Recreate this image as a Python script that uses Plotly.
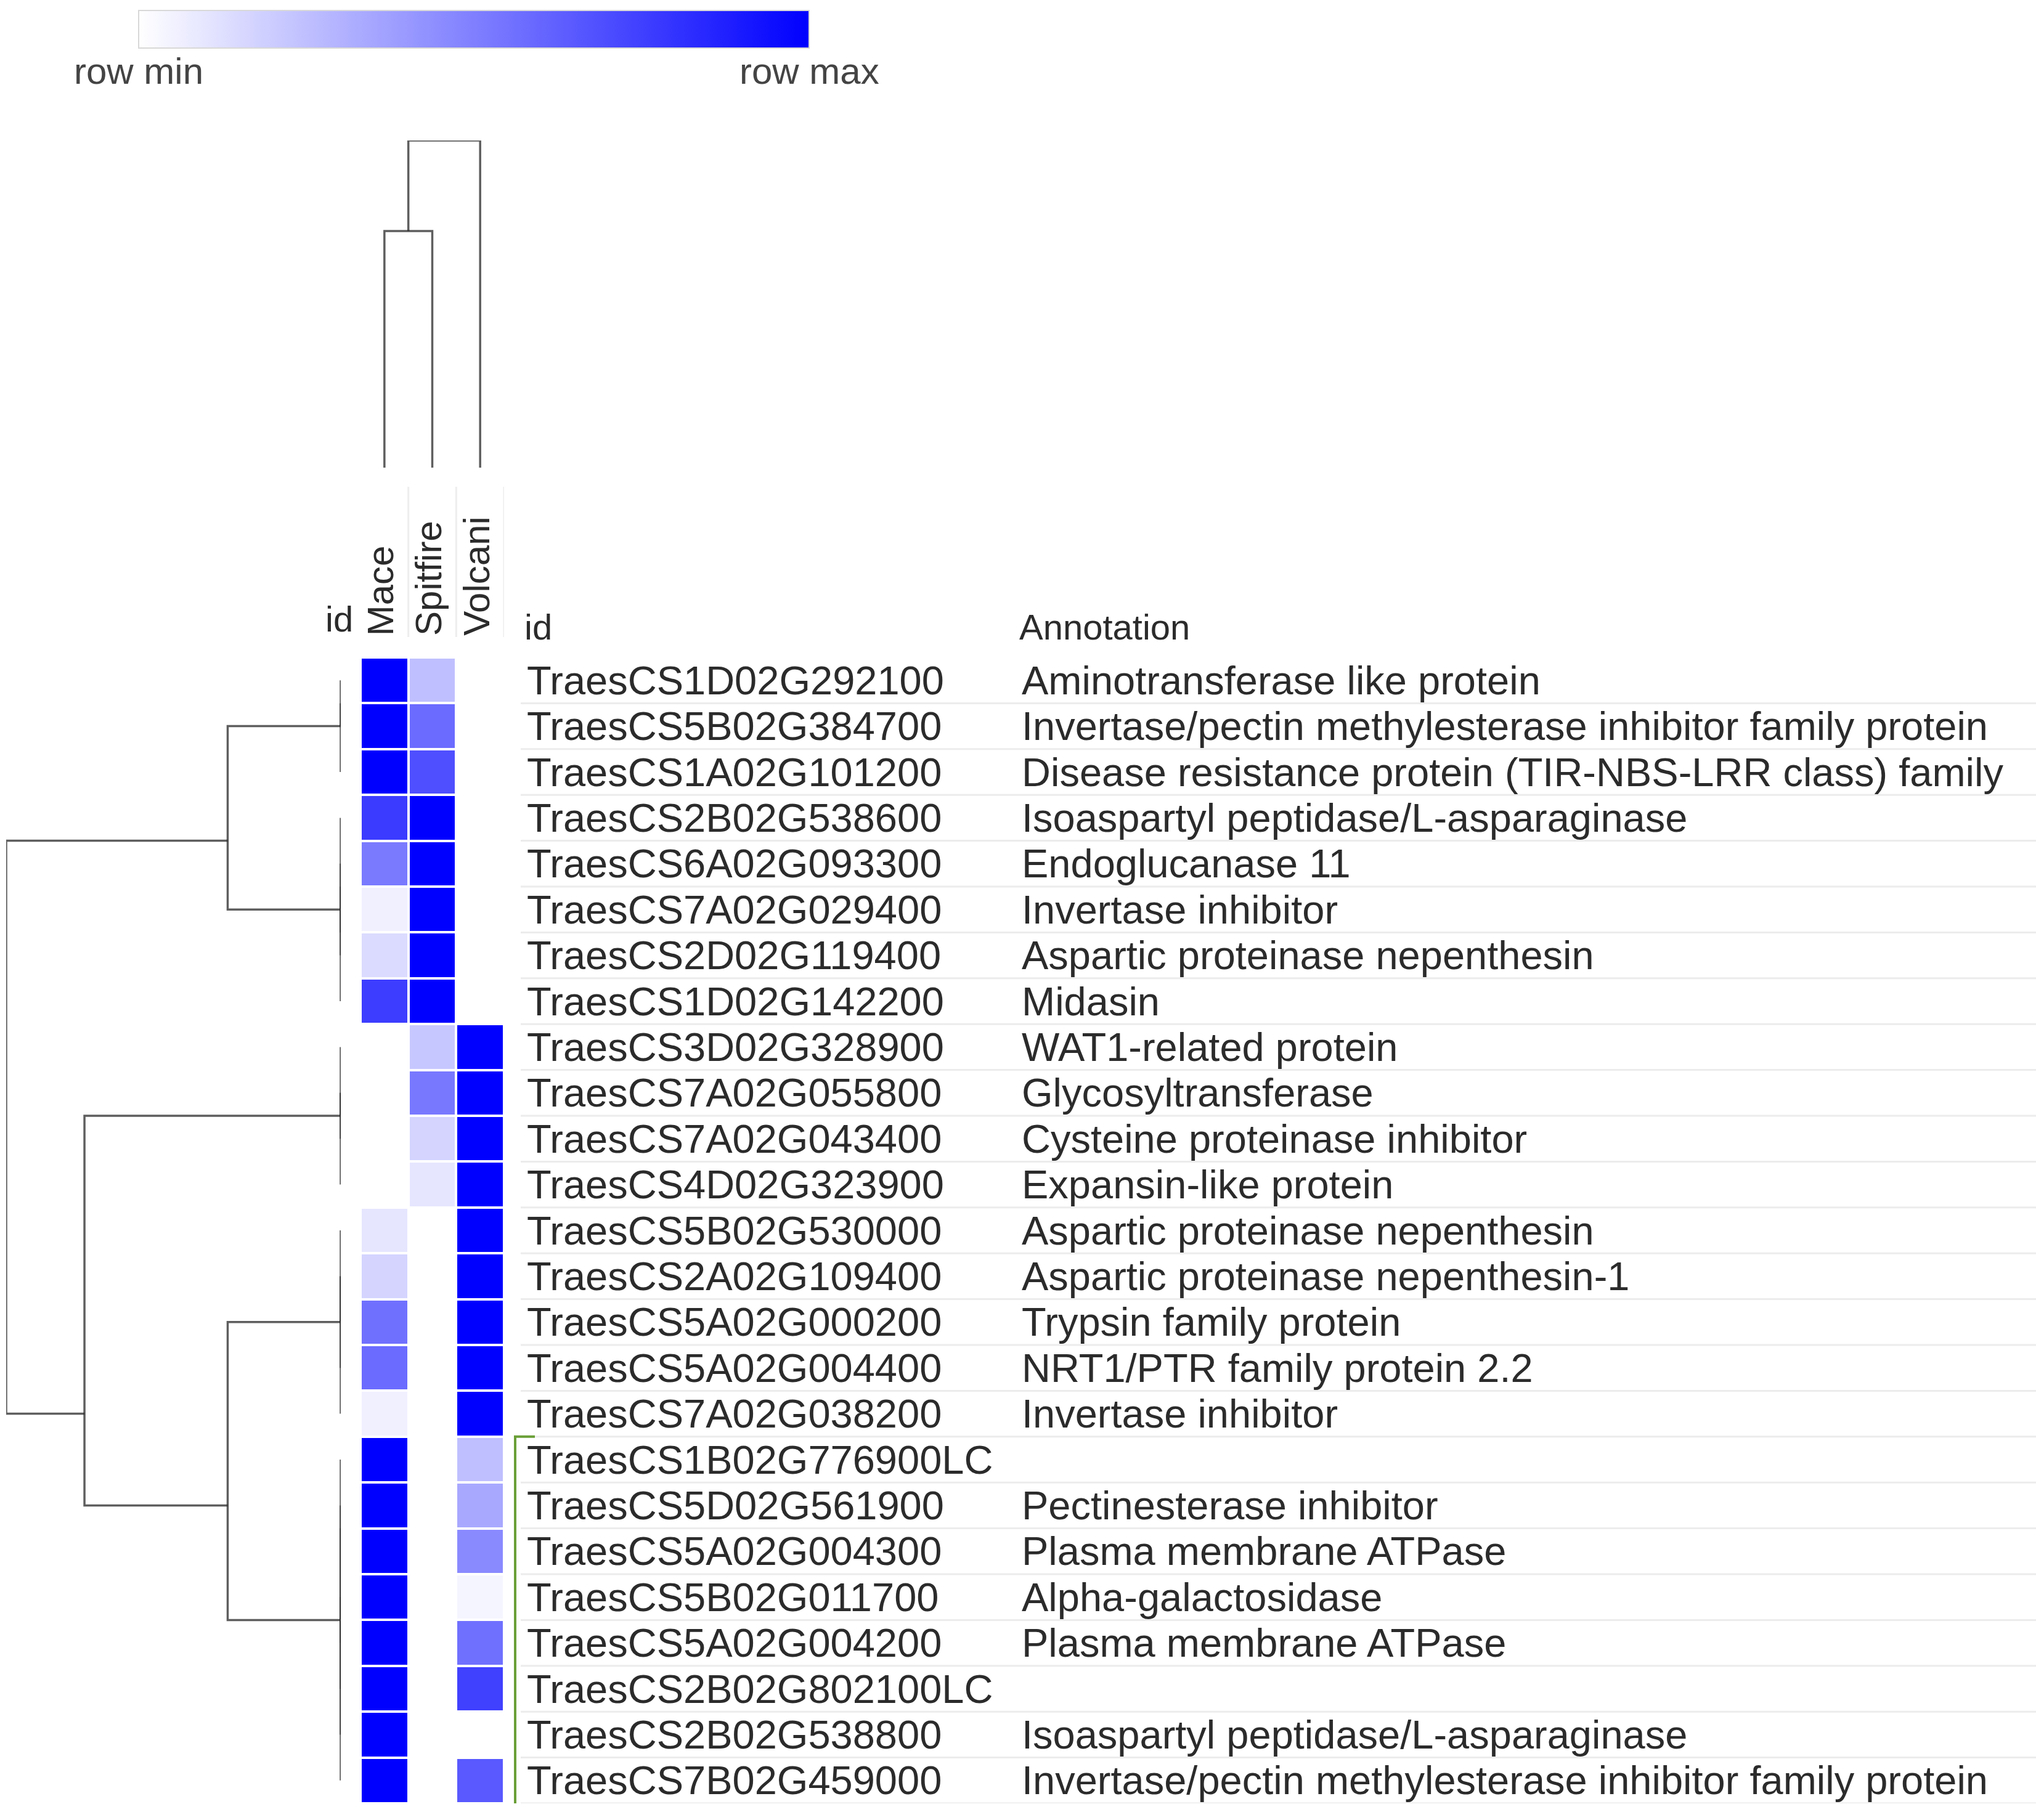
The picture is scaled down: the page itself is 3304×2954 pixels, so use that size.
import plotly.graph_objects as go

W, H = 3304, 2954

# ---------------- data ----------------
columns = ["Mace", "Spitfire", "Volcani"]
ids = [
    "TraesCS1D02G292100", "TraesCS5B02G384700", "TraesCS1A02G101200", "TraesCS2B02G538600",
    "TraesCS6A02G093300", "TraesCS7A02G029400", "TraesCS2D02G119400", "TraesCS1D02G142200",
    "TraesCS3D02G328900", "TraesCS7A02G055800", "TraesCS7A02G043400", "TraesCS4D02G323900",
    "TraesCS5B02G530000", "TraesCS2A02G109400", "TraesCS5A02G000200", "TraesCS5A02G004400",
    "TraesCS7A02G038200", "TraesCS1B02G776900LC", "TraesCS5D02G561900", "TraesCS5A02G004300",
    "TraesCS5B02G011700", "TraesCS5A02G004200", "TraesCS2B02G802100LC", "TraesCS2B02G538800",
    "TraesCS7B02G459000",
]
annotations = [
    "Aminotransferase like protein",
    "Invertase/pectin methylesterase inhibitor family protein",
    "Disease resistance protein (TIR-NBS-LRR class) family",
    "Isoaspartyl peptidase/L-asparaginase",
    "Endoglucanase 11",
    "Invertase inhibitor",
    "Aspartic proteinase nepenthesin",
    "Midasin",
    "WAT1-related protein",
    "Glycosyltransferase",
    "Cysteine proteinase inhibitor",
    "Expansin-like protein",
    "Aspartic proteinase nepenthesin",
    "Aspartic proteinase nepenthesin-1",
    "Trypsin family protein",
    "NRT1/PTR family protein 2.2",
    "Invertase inhibitor",
    "",
    "Pectinesterase inhibitor",
    "Plasma membrane ATPase",
    "Alpha-galactosidase",
    "Plasma membrane ATPase",
    "",
    "Isoaspartyl peptidase/L-asparaginase",
    "Invertase/pectin methylesterase inhibitor family protein",
]
mace = [1.0, 1.0, 1.0, 0.77, 0.52, 0.06, 0.14, 0.76,
        0.0, 0.0, 0.0, 0.0,
        0.10, 0.17, 0.56, 0.58, 0.06,
        1.0, 1.0, 1.0, 1.0, 1.0, 1.0, 1.0, 1.0]
spitfire = [0.25, 0.58, 0.69, 1.0, 1.0, 1.0, 1.0, 1.0,
            0.22, 0.53, 0.17, 0.10,
            0.0, 0.0, 0.0, 0.0, 0.0,
            0.0, 0.0, 0.0, 0.0, 0.0, 0.0, 0.0, 0.0]
volcani = [0.0, 0.0, 0.0, 0.0, 0.0, 0.0, 0.0, 0.0,
           1.0, 1.0, 1.0, 1.0,
           1.0, 1.0, 1.0, 1.0, 1.0,
           0.25, 0.34, 0.46, 0.04, 0.56, 0.75, 0.0, 0.65]

# row linkage (a, b, height); leaves 0..24, merged nodes numbered 25+
row_linkage = [
    (0, 1, 0.0), (25, 2, 0.0),                                   # 25, 26  cluster A
    (5, 6, 0.0), (4, 27, 0.0), (3, 28, 0.0), (29, 7, 0.0),       # 27..30 cluster B
    (9, 10, 0.0), (8, 31, 0.0), (32, 11, 0.0),                   # 31..33 cluster C
    (13, 14, 0.0), (12, 34, 0.0), (35, 15, 0.0), (36, 16, 0.0),  # 34..37 cluster D
    (18, 19, 0.0), (20, 21, 0.0), (38, 39, 0.0), (17, 40, 0.0),  # 38..41 cluster E
    (41, 22, 0.0), (42, 23, 0.0), (43, 24, 0.0),                 # 42..44
    (26, 30, 0.338),                                             # 45  A+B
    (37, 44, 0.338),                                             # 46  D+E
    (33, 46, 0.766),                                             # 47  C+DE
    (45, 47, 1.0),                                               # 48  root
]
# column linkage (leaves 0..2)
col_linkage = [(0, 1, 0.723), (3, 2, 1.0)]

cb_labels = ["row min", "row max"]
header_id = "id"
header_annot = "Annotation"

# ---------------- helpers ----------------
def dendro_segments(linkage, n_leaves):
    pos = {i: float(i) for i in range(n_leaves)}
    hgt = {i: 0.0 for i in range(n_leaves)}
    cnt = {i: 1 for i in range(n_leaves)}
    segs = []
    for k, (a, b, h) in enumerate(linkage):
        node = n_leaves + k
        cnt[node] = cnt[a] + cnt[b]
        pos[node] = (pos[a] * cnt[a] + pos[b] * cnt[b]) / cnt[node]
        hgt[node] = h
        segs.append(([hgt[a], h, h, hgt[b]], [pos[a], pos[a], pos[b], pos[b]]))
    return segs

n = len(ids)
rows = list(range(n))
z = [[mace[i], spitfire[i], volcani[i]] for i in rows]

FONT = "Liberation Sans, Arial, sans-serif"
TXT = "#2b2b2b"
LINE = "rgba(40,40,40,0.75)"

hx0, hx1 = 585, 818          # heatmap x span (px)
hy0, hy1 = 1067, 2927        # heatmap y span (px, from top)
cbx0, cbx1 = 225, 1313       # colour bar x span (px)
def fx(px):
    return px / W
def fy(py):
    return 1 - py / H

fig = go.Figure()

fig.add_trace(go.Heatmap(
    z=z, x=[0, 1, 2], y=rows,
    colorscale=[[0, "#ffffff"], [1, "#0000ff"]], zmin=0, zmax=1,
    xgap=4, ygap=4, hoverinfo="skip",
    colorbar=dict(
        orientation="h", x=fx((cbx0 + cbx1) / 2), xanchor="center",
        y=fy(17), yanchor="top", len=(cbx1 - cbx0) / W, lenmode="fraction",
        thickness=61, xpad=0, ypad=0, outlinecolor="#d8d8d8", outlinewidth=2,
        tickvals=[0, 1], ticktext=["", ""], ticks="", ticklen=0,
        tickfont=dict(family=FONT, size=10, color="#ffffff"),
    ),
    xaxis="x", yaxis="y",
))

# row dendrogram
for xs, ys in dendro_segments(row_linkage, n):
    fig.add_trace(go.Scatter(x=xs, y=ys, mode="lines", xaxis="x3", yaxis="y",
                             line=dict(color=LINE, width=3.5), hoverinfo="skip",
                             showlegend=False))

# column dendrogram
for hs, ps in dendro_segments(col_linkage, len(columns)):
    fig.add_trace(go.Scatter(x=ps, y=hs, mode="lines", xaxis="x", yaxis="y4",
                             line=dict(color=LINE, width=3.5), hoverinfo="skip",
                             showlegend=False))

# invisible trace to activate the pixel-x / row-y subplot for labels
fig.add_trace(go.Scatter(x=[0], y=[0], mode="markers", marker=dict(opacity=0),
                         xaxis="x2", yaxis="y", hoverinfo="skip", showlegend=False))

ann = []
for i in rows:
    ann.append(dict(x=853, y=i, xref="x2", yref="y", text=ids[i], showarrow=False,
                    xanchor="left", yanchor="middle",
                    font=dict(family=FONT, size=65, color=TXT)))
    if annotations[i]:
        ann.append(dict(x=1656, y=i, xref="x2", yref="y", text=annotations[i],
                        showarrow=False, xanchor="left", yanchor="middle",
                        font=dict(family=FONT, size=65, color=TXT)))
# colour bar end labels
for lab, px in zip(cb_labels, [cbx0, cbx1]):
    ann.append(dict(x=fx(px), y=fy(116), xref="paper", yref="paper", text=lab,
                    showarrow=False, xanchor="center", yanchor="middle",
                    font=dict(family=FONT, size=60, color="#444444")))
# headers
ann.append(dict(x=fx(849), y=fy(1018), xref="paper", yref="paper", text=header_id,
                showarrow=False, xanchor="left", yanchor="middle",
                font=dict(family=FONT, size=58, color=TXT)))
ann.append(dict(x=fx(1652), y=fy(1018), xref="paper", yref="paper", text=header_annot,
                showarrow=False, xanchor="left", yanchor="middle",
                font=dict(family=FONT, size=58, color=TXT)))
ann.append(dict(x=fx(550), y=fy(1005), xref="paper", yref="paper", text=header_id,
                showarrow=False, xanchor="center", yanchor="middle",
                font=dict(family=FONT, size=58, color=TXT)))
for j, c in enumerate(columns):
    ann.append(dict(x=j, y=fy(1034), xref="x", yref="paper", text=c, textangle=-90,
                    showarrow=False, xanchor="center", yanchor="bottom", xshift=-6,
                    font=dict(family=FONT, size=60, color=TXT)))

shapes = []
for i in rows:
    shapes.append(dict(type="line", xref="paper", yref="y", x0=fx(845), x1=1,
                       y0=i + 0.5, y1=i + 0.5, line=dict(color="#ececec", width=3),
                       layer="below"))
for j in range(len(columns)):
    shapes.append(dict(type="line", xref="x", yref="paper", x0=j + 0.5, x1=j + 0.5,
                       y0=fy(1034), y1=fy(790), line=dict(color="#eeeeee", width=3),
                       layer="below"))
shapes.append(dict(type="path", xref="x2", yref="y",
                   path="M 868 16.5 L 836 16.5 L 836 24.65 L 868 24.65",
                   line=dict(color="#6a9f37", width=4)))

ax_off = dict(visible=False, showgrid=False, zeroline=False, fixedrange=True)
fig.update_layout(
    width=W, height=H, margin=dict(l=0, r=0, t=0, b=0),
    paper_bgcolor="white", plot_bgcolor="rgba(0,0,0,0)",
    showlegend=False,
    xaxis=dict(domain=[fx(hx0), fx(hx1)], range=[-0.5, 2.5], anchor="y", **ax_off),
    yaxis=dict(domain=[fy(hy1), fy(hy0)], range=[n - 0.5, -0.5], anchor="x", **ax_off),
    xaxis2=dict(domain=[0, 1], range=[0, W], anchor="y", **ax_off),
    xaxis3=dict(domain=[fx(10), fx(553)], range=[1.0, 0.0], anchor="y", **ax_off),
    yaxis4=dict(domain=[fy(759), fy(228)], range=[0, 1.0], anchor="x", **ax_off),
    annotations=ann, shapes=shapes,
)

fig.write_html("out.html", config={"displayModeBar": False},
               post_script="document.body.style.margin='0';")
